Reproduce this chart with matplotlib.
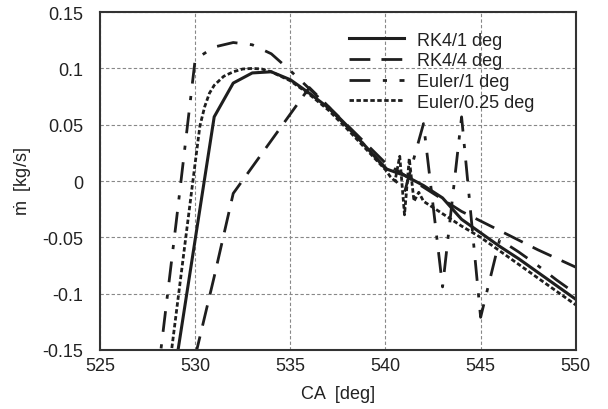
import numpy as np
import matplotlib
matplotlib.use('Agg')
import matplotlib.pyplot as plt

plt.rcParams['font.family'] = ['Liberation Sans', 'DejaVu Sans']
plt.rcParams['mathtext.fontset'] = 'custom'
plt.rcParams['mathtext.rm'] = 'Liberation Sans'

# RK4 / 1 deg step
ca_rk1 = [529, 530, 531, 532, 533, 534, 535, 536, 537, 538, 539, 540,
          541, 542, 543, 544, 545, 546, 547, 548, 549, 550]
m_rk1 = [-0.161, -0.052, 0.057, 0.087, 0.096, 0.097, 0.090, 0.078, 0.065,
         0.048, 0.030, 0.011, 0.005, -0.004, -0.015, -0.034, -0.046, -0.058,
         -0.069, -0.081, -0.093, -0.105]

# RK4 / 4 deg step
ca_rk4 = [530, 531, 532, 536, 540, 544, 548, 552]
m_rk4 = [-0.156, -0.085, -0.011, 0.083, 0.016, -0.027, -0.061, -0.092]

# Euler / 1 deg step
ca_eu1 = [528, 529, 530, 531, 532, 533, 534, 535, 536, 537, 538, 539, 540,
          541, 542, 543, 544, 545, 546, 547, 548, 549, 550]
m_eu1 = [-0.178, -0.037, 0.108, 0.119, 0.123, 0.121, 0.113, 0.098, 0.082,
         0.066, 0.049, 0.030, 0.012, -0.010, 0.051, -0.094, 0.057, -0.121,
         -0.052, -0.063, -0.075, -0.088, -0.100]

# Euler / 0.25 deg step
ca_eu025 = [528.5, 529.0, 529.5, 530.0, 530.25, 530.5, 530.75, 531.0, 531.5,
            532.0, 532.5, 533.0, 533.5, 534.0, 535.0, 536.0, 537.0, 538.0,
            539.0, 540.0, 540.25, 540.5, 540.75, 541.0, 541.25, 541.5, 541.75,
            542.0, 543.0, 544.0, 545.0, 546.0, 547.0, 548.0, 549.0, 550.0]
m_eu025 = [-0.185, -0.118, -0.051, 0.016, 0.049, 0.066, 0.078, 0.085, 0.093,
           0.097, 0.0995, 0.100, 0.0995, 0.097, 0.089, 0.077, 0.063, 0.046,
           0.028, 0.010, 0.004, 0.000, 0.022, -0.030, 0.020, -0.018, -0.010,
           -0.018, -0.029, -0.040, -0.050, -0.062, -0.074, -0.086, -0.098, -0.110]

x_ticks = [525, 530, 535, 540, 545, 550]
y_ticks = [-0.15, -0.1, -0.05, 0, 0.05, 0.1, 0.15]
y_ticklabels = ['-0.15', '-0.1', '-0.05', '0', '0.05', '0.1', '0.15']

col = '#1e1e1e'
txt = '#222222'

fig = plt.figure(figsize=(6.08, 4.10), dpi=100)
ax = fig.add_axes([0.1645, 0.144, 0.7825, 0.824])

ax.plot(ca_rk1, m_rk1, color=col, linewidth=2.2, linestyle='-', label='RK4/1 deg')
ax.plot(ca_rk4, m_rk4, color=col, linewidth=2.0, linestyle=(0, (7.5, 4)), label='RK4/4 deg')
ax.plot(ca_eu1, m_eu1, color=col, linewidth=2.0, linestyle=(0, (7.5, 4.5, 1.5, 4.5)), label='Euler/1 deg')
ax.plot(ca_eu025, m_eu025, color=col, linewidth=2.0, linestyle=(0, (1.6, 0.9)), label='Euler/0.25 deg')

ax.set_xlim(525, 550)
ax.set_ylim(-0.15, 0.15)
ax.set_xticks(x_ticks)
ax.set_yticks(y_ticks)
ax.set_yticklabels(y_ticklabels)
ax.tick_params(length=0, labelsize=13, colors=txt)
ax.tick_params(axis='y', pad=12)
ax.tick_params(axis='x', pad=5)
ax.grid(True, color='#888888', linestyle=(0, (3, 2)), linewidth=0.8)
for s in ax.spines.values():
    s.set_color('#333333')
    s.set_linewidth(1.5)

ax.set_xlabel('CA  [deg]', fontsize=13, color=txt, labelpad=8)
ax.set_ylabel(r'$\dot{\mathrm{m}}$  [kg/s]', fontsize=13, color=txt, labelpad=6)

leg = ax.legend(loc='upper left', bbox_to_anchor=(0.574, 0.92),
                bbox_transform=fig.transFigure, frameon=False,
                fontsize=13, handlelength=3.05, handletextpad=0.7,
                labelspacing=0.2, borderaxespad=0, borderpad=0)
for t in leg.get_texts():
    t.set_color(txt)

fig.savefig('out.png', dpi=100)
